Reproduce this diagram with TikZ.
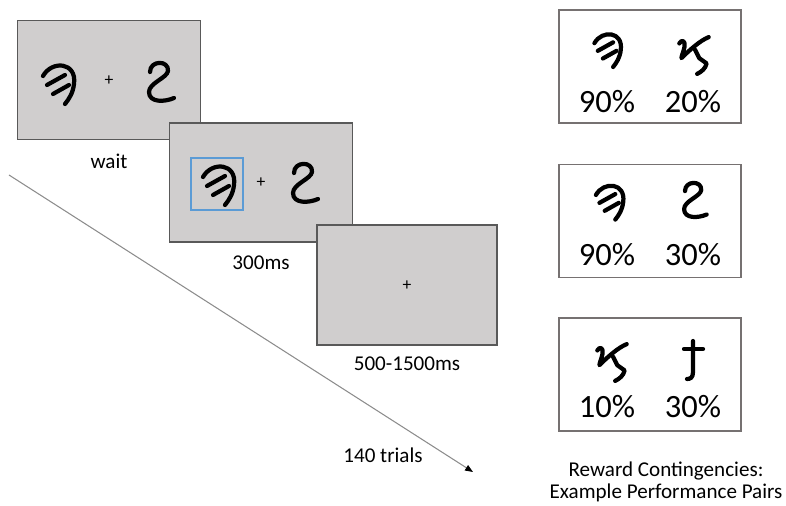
\documentclass[tikz,border=0pt]{standalone}
\usepackage{fontspec}
\setmainfont{Carlito}
\usetikzlibrary{arrows.meta,positioning}
\definecolor{screengray}{HTML}{D0CECE}
\definecolor{screenedge}{HTML}{595959}
\definecolor{boxedge}{HTML}{767171}
\definecolor{pickblue}{HTML}{5B9BD5}
\definecolor{trialgray}{HTML}{8C8C8C}
\tikzset{
  screen/.style={draw=screenedge,fill=screengray,line width=0.8pt,
    minimum width=3.66cm,minimum height=2.38cm,inner sep=0pt},
  pairbox/.style={draw=boxedge,line width=0.8pt,
    minimum width=3.64cm,minimum height=2.26cm,inner sep=0pt},
  pickframe/.style={draw=pickblue,line width=1.1pt,minimum size=1.04cm,inner sep=0pt},
  fixmark/.style={font=\fontsize{10}{10}\selectfont,inner sep=0pt},
  durlabel/.style={font=\fontsize{12}{12}\selectfont,inner sep=0pt},
  pct/.style={font=\fontsize{18.5}{18.5}\selectfont,inner sep=0pt},
  glyphline/.style={line width=2.4pt,line cap=round,line join=round},
  % the four stimulus symbols
  pics/symA/.style={code={
    \draw[glyphline] (-16,-8) .. controls (-7,-24) and (18,-22) .. (15,0)
      .. controls (14,9) and (10,15) .. (6,20);
    \draw[glyphline] (-12,1) -- (6,-9);
    \draw[glyphline] (-6,10) -- (10,1);
  }},
  pics/symB/.style={code={
    \draw[glyphline] (-10,-11) .. controls (-10,-23) and (9,-23) .. (8,-12)
      .. controls (7,-5) and (-11,0) .. (-11,9)
      .. controls (-11,20) and (5,19) .. (14,15);
  }},
  pics/symC/.style={code={
    \draw[glyphline] (-14,-11) .. controls (-12,-15) and (-8,-14) .. (-9,-8)
      .. controls (-10,-3) and (-12,1) .. (-12,3)
      .. controls (-5,-4) and (6,-14) .. (14,-17);
    \draw[glyphline] (1,-5) -- (5,3) -- (12,8) .. controls (11,13) and (7,16) .. (3,18);
  }},
  pics/symD/.style={code={
    \draw[glyphline] (0,-20) -- (0,11) .. controls (0,17) and (-3,18) .. (-6,18);
    \draw[glyphline] (-9,-12) -- (10,-12);
  }}
}

\begin{document}
\begin{tikzpicture}[x=0.02cm,y=-0.02cm]
  \useasboundingbox (0,0) rectangle (786,506);

  % time axis
  \coordinate (t0) at (9,175);
  \coordinate (t1) at (473,472);
  \draw[trialgray,line width=0.6pt,-{Triangle[length=4.5pt,width=3.5pt,color=black]}] (t0) -- (t1);
  \node[durlabel] (trials) at (383,455) {140 trials};

  % trial screens
  \node[screen] (scr1) at (109,80) {};
  \node[fixmark] (fx1) at (109,81) {+};
  \pic (s1a) at (59,84) {symA};
  \pic (s1b) at (160,83) {symB};
  \node[durlabel,below=0.27cm of scr1] (wait) {wait};

  \node[screen] (scr2) at (261,182.5) {};
  \node[fixmark] (fx2) at (261,183) {+};
  \pic (s2a) at (219,185) {symA};
  \pic (s2b) at (304,184) {symB};
  \node[pickframe] (pick) at (217,184) {};
  \node[durlabel,below=0.25cm of scr2] (choice) {300ms};

  \node[screen,minimum width=3.6cm,minimum height=2.4cm] (scr3) at (407,285) {};
  \node[fixmark] (fx3) at (407,286) {+};
  \node[durlabel,below=0.21cm of scr3] (iti) {500-1500ms};

  % reward contingencies
  \node[pairbox] (pair1) at (650,66.5) {};
  \pic[scale=0.85] (p1a) at (608,50) {symA};
  \pic[scale=1.05] (p1b) at (694,55) {symC};
  \node[pct] (r1a) at (607,102) {90\%};
  \node[pct] (r1b) at (693,102) {20\%};

  \node[pairbox] (pair2) at (650,221) {};
  \pic[scale=0.88] (p2a) at (610,202) {symA};
  \pic[scale=0.9] (p2b) at (694,201) {symB};
  \node[pct] (r2a) at (607,255) {90\%};
  \node[pct] (r2b) at (693,255) {30\%};

  \node[pairbox] (pair3) at (650,374.5) {};
  \pic[scale=1.05] (p3a) at (612,362) {symC};
  \pic (p3b) at (693,361) {symD};
  \node[pct] (r3a) at (607,407) {10\%};
  \node[pct] (r3b) at (693,407) {30\%};

  \node[font=\fontsize{12}{12.5}\selectfont,align=center,inner sep=0pt] (caption) at (666,482)
    {Reward Contingencies:\\Example Performance Pairs};
\end{tikzpicture}
\end{document}
